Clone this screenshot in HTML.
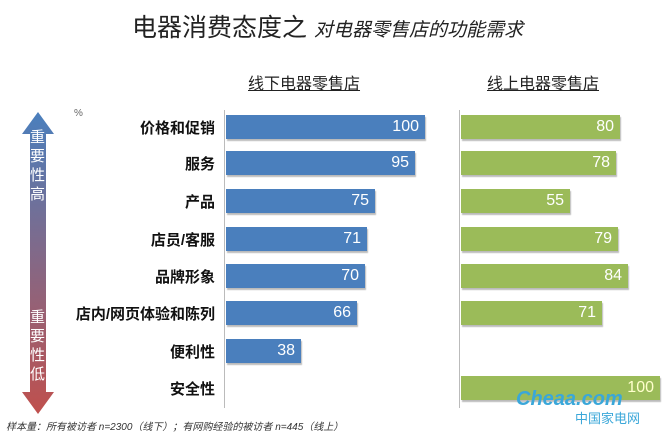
<!DOCTYPE html><html><head><meta charset="utf-8"><style>
body{margin:0;width:670px;height:438px;background:#fff;position:relative;overflow:hidden;font-family:"Liberation Sans","Noto Sans CJK SC",sans-serif}
.a{position:absolute}
.lb{position:absolute;right:455px;font-weight:bold;font-size:15px;color:#111;white-space:nowrap}
.bar{position:absolute;height:24px;color:#fff;font-size:16px;text-align:right;box-sizing:border-box;padding-right:6px;line-height:24px;box-shadow:1px 2px 1px #bbb}
.b{background:#4a7fbd;left:226px}.g{background:#9bbb59;left:461px;color:#fff}
</style></head><body>
<div class="a" style="left:132px;top:8px;font-size:25px;color:#222">电器消费态度之 <i style="font-size:19px">对电器零售店的功能需求</i></div>
<div class="a" style="left:248px;top:70px;font-size:16px;text-decoration:underline;color:#222">线下电器零售店</div>
<div class="a" style="left:487px;top:70px;font-size:16px;text-decoration:underline;color:#222">线上电器零售店</div>
<div class="a" style="left:74px;top:108px;font-size:10px;color:#666">%</div>
<div class="a" style="left:224px;top:110px;width:1px;height:298px;background:#bbb"></div>
<div class="a" style="left:459px;top:110px;width:1px;height:298px;background:#bbb"></div>
<svg class="a" style="left:20px;top:112px" width="36" height="302"><defs><linearGradient id="gr" x1="0" y1="0" x2="0" y2="1"><stop offset="0" stop-color="#4a7fbd"/><stop offset="1" stop-color="#c0504d"/></linearGradient></defs><polygon points="18,0 34,22 26,22 26,280 34,280 18,302 2,280 10,280 10,22 2,22" fill="url(#gr)"/></svg>
<div class="a" style="left:30px;top:128px;width:16px;font-size:15px;color:#fff;line-height:19px">重要性高</div>
<div class="a" style="left:30px;top:308px;width:16px;font-size:15px;color:#fff;line-height:19px">重要性低</div>
<div class="lb" style="top:117px">价格和促销</div>
<div class="lb" style="top:153px">服务</div>
<div class="lb" style="top:191px">产品</div>
<div class="lb" style="top:229px">店员/客服</div>
<div class="lb" style="top:266px">品牌形象</div>
<div class="lb" style="top:303px">店内/网页体验和陈列</div>
<div class="lb" style="top:341px">便利性</div>
<div class="lb" style="top:378px">安全性</div>
<div class="bar b" style="top:115px;width:199px">100</div>
<div class="bar b" style="top:151px;width:189px">95</div>
<div class="bar b" style="top:189px;width:149px">75</div>
<div class="bar b" style="top:227px;width:141px">71</div>
<div class="bar b" style="top:264px;width:139px">70</div>
<div class="bar b" style="top:301px;width:131px">66</div>
<div class="bar b" style="top:339px;width:75px">38</div>
<div class="bar g" style="top:115px;width:159px">80</div>
<div class="bar g" style="top:151px;width:155px">78</div>
<div class="bar g" style="top:189px;width:109px">55</div>
<div class="bar g" style="top:227px;width:157px">79</div>
<div class="bar g" style="top:264px;width:167px">84</div>
<div class="bar g" style="top:301px;width:141px">71</div>
<div class="bar g" style="top:376px;width:199px;color:#ffffcc">100</div>
<div class="a" style="left:516px;top:388px;font-size:20px;font-weight:bold;font-style:italic;color:#3aa7d9">Cheaa.com</div>
<div class="a" style="left:575px;top:408px;font-size:13px;color:#3aa7d9">中国家电网</div>
<div class="a" style="left:6px;top:418px;font-size:10px;font-style:italic;color:#333">样本量：所有被访者 n=2300（线下）；有网购经验的被访者 n=445（线上）</div>
</body></html>
